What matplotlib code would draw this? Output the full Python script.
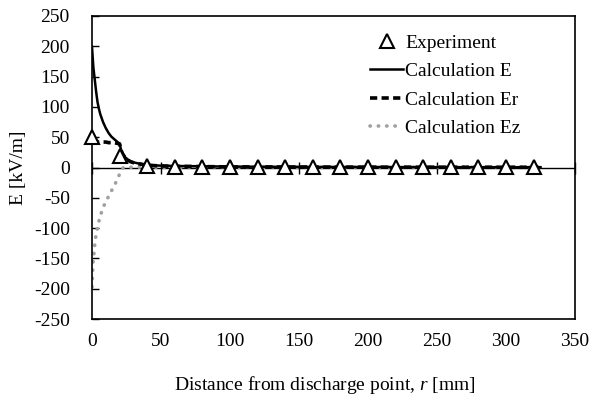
import matplotlib
matplotlib.use("Agg")
import matplotlib.pyplot as plt
from matplotlib.lines import Line2D

# ---- data ----
r_exp = [0, 20, 40, 60, 80, 100, 120, 140, 160, 180, 200, 220, 240, 260, 280, 300, 320]
E_exp = [50, 19, 3, 1, 1, 0.5, 0.5, 0.5, 0.5, 0.5, 0.5, 0.5, 0.5, 0.5, 0.5, 0.5, 0.5]

r_calc = [0, 1, 2, 3, 4, 5, 6, 8, 10, 12, 14, 16, 18, 20, 21, 22, 24, 26, 28, 30,
          34, 38, 42, 50, 60, 80, 100, 150, 200, 250, 300, 325]
E_calc = [199, 165, 145, 125, 108, 97, 88, 75, 65, 57, 51, 47, 43, 39, 30, 24, 17, 13, 10, 8.5,
          6.5, 5, 4, 3, 2.5, 2, 1.5, 1, 0.8, 0.6, 0.5, 0.5]
Er_calc = [42, 42, 42, 42, 42, 42, 42, 42, 42, 41, 41, 41, 40, 39, 29, 23, 16, 12, 9.5, 8,
           6, 4.5, 3.5, 2.5, 2, 1.5, 1, 0.8, 0.6, 0.5, 0.4, 0.4]
r_ez = [0, 0.3, 0.6, 1, 1.7, 2.2, 3.4, 4.6, 6.3, 8.2, 11, 14, 17, 19.8, 22.7, 30, 50, 100, 200, 325]
Ez_calc = [-197, -180, -165, -150, -136, -121, -106, -92, -78, -65, -52, -39, -26, -12, 0,
           0.5, 0.5, 0.4, 0.3, 0.3]

x_ticks = [0, 50, 100, 150, 200, 250, 300, 350]
y_ticks = [-250, -200, -150, -100, -50, 0, 50, 100, 150, 200, 250]

plt.rcParams['font.family'] = ['Liberation Serif', 'DejaVu Serif']
plt.rcParams['mathtext.fontset'] = 'custom'
plt.rcParams['mathtext.it'] = 'Liberation Serif:italic'
plt.rcParams['mathtext.rm'] = 'Liberation Serif'
plt.rcParams['axes.unicode_minus'] = False

fig = plt.figure(figsize=(5.9, 3.96), dpi=100)
ax = fig.add_axes([92/590, 1-319/396, 483/590, 303/396])

ax.set_xlim(0, 350)
ax.set_ylim(-250, 250)
for s in ax.spines.values():
    s.set_linewidth(1.2)
    s.set_color('black')

# zero axis line with cross ticks
ax.axhline(0, color='black', lw=1.0, zorder=1)
ax.plot(x_ticks, [0]*len(x_ticks), linestyle='none', marker='|', markersize=8,
        mew=1.0, color='black', zorder=1, clip_on=False)

ax.plot(r_ez, Ez_calc, color='#a0a0a0', lw=2.6, linestyle=(0, (0.1, 2.2)),
        dash_capstyle='round', zorder=2)
ax.plot(r_calc, Er_calc, color='black', lw=2.6, linestyle=(0, (2.0, 1.2)), zorder=3)
ax.plot(r_calc, E_calc, color='black', lw=1.8, zorder=4)
ax.plot(r_exp, E_exp, linestyle='none', marker='^', markersize=10, mfc='white',
        mec='black', mew=1.5, zorder=5, clip_on=False)

ax.set_xticks(x_ticks)
ax.set_yticks(y_ticks)
ax.tick_params(axis='x', length=0, pad=10, labelsize=14)
ax.tick_params(axis='y', direction='in', length=5, width=1.0, pad=16, labelsize=14)

ax.set_ylabel('E [kV/m]', fontsize=14)
ax.yaxis.set_label_coords(-0.135, 0.5)
ax.set_xlabel('Distance from discharge point, $r$ [mm]', fontsize=14)
ax.xaxis.set_label_coords(0.483, -0.18)

handles = [
    Line2D([], [], linestyle='none', marker='^', markersize=10, mfc='white', mec='black', mew=1.5),
    Line2D([], [], color='black', lw=1.8),
    Line2D([], [], color='black', lw=2.6, linestyle=(0, (2.0, 1.2))),
    Line2D([], [], color='#a0a0a0', lw=2.6, linestyle=(0, (0.1, 2.2)), dash_capstyle='round'),
]
labels = ['Experiment', 'Calculation E', 'Calculation Er', 'Calculation Ez']
ax.legend(handles, labels, loc='upper left', bbox_to_anchor=((370-92)/483, 1-(34-16)/303),
          frameon=False, fontsize=14, handlelength=1.7, handletextpad=0.1,
          labelspacing=0.56, borderaxespad=0, borderpad=0)

fig.savefig('out.png', dpi=100)
